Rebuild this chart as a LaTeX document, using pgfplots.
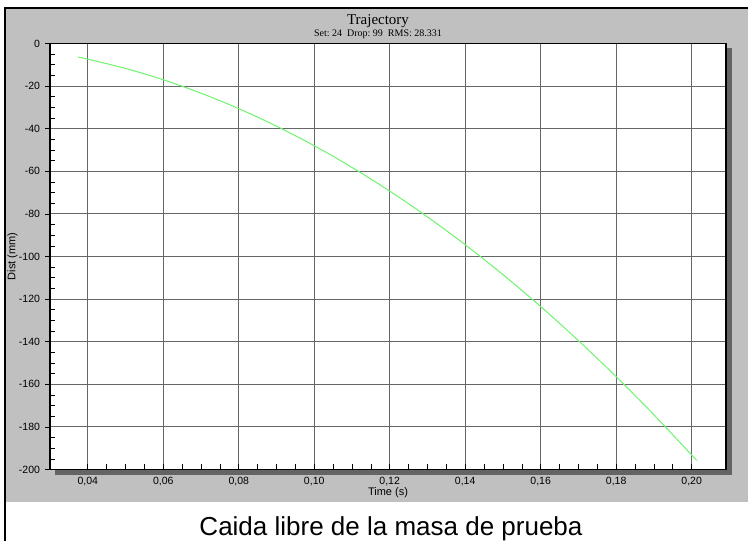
\documentclass[border=0pt]{standalone}
\usepackage{fontspec}
\setmainfont{Liberation Sans}
\newfontfamily\seriffont{Liberation Serif}
\usepackage{pgfplots}
\pgfplotsset{compat=1.18}
\definecolor{panelgray}{RGB}{192,192,192}
\definecolor{curvegreen}{RGB}{110,245,110}
\definecolor{shadowgray}{RGB}{100,100,100}
\begin{document}
\begin{tikzpicture}[x=1pt,y=1pt]
\path[use as bounding box] (0,0) rectangle (748,541);
\fill[white] (0,0) rectangle (748,541);
\fill[panelgray] (6,39) rectangle (748,532);
\fill[black] (4,0) rectangle (6,534);
\fill[black] (4,532) rectangle (748,534);
\fill[shadowgray] (727,66) rectangle (732,493);
\fill[shadowgray] (55,66) rectangle (732,71);
\begin{axis}[
  at={(50pt,71.5pt)}, anchor=south west, scale only axis,
  width=676pt, height=426pt,
  xmin=0.03, xmax=0.2091, ymin=-200, ymax=0,
  axis background/.style={fill=white},
  axis line style={black, line width=1.2pt},
  xtick={0.04,0.06,...,0.201},
  ytick={-200,-180,...,0},
  minor x tick num=3, minor y tick num=3,
  xtick pos=bottom, ytick pos=left,
  tick align=inside,
  major tick length=5pt, minor tick length=5pt,
  tick style={black, line width=0.6pt},
  major y tick style={xshift=-5pt},
  grid=major,
  major grid style={black!60, line width=0.9pt},
  /pgf/number format/assume math mode=true,
  xticklabel style={/pgf/number format/.cd, fixed, fixed zerofill, precision=2, use comma, /tikz/.cd, font=\fontsize{10.5}{12}\selectfont, yshift=-4.5pt},
  yticklabel style={font=\fontsize{10.5}{12}\selectfont, xshift=-6.5pt},
  xlabel={Time (s)},
  xlabel style={at={(axis description cs:0.5,-0.0605)}, anchor=base, font=\fontsize{11}{13}\selectfont},
  ylabel={Dist (mm)},
  ylabel style={at={(axis description cs:-0.0555,0.5)}, anchor=center, rotate=0, font=\fontsize{11}{13}\selectfont},
]
\addplot[curvegreen, line width=1pt, smooth] coordinates {
(0.0374,-6.37) (0.04,-7.34) (0.05,-11.70) (0.06,-17.02) (0.07,-23.32)
(0.08,-30.58) (0.09,-38.80) (0.10,-48.00) (0.11,-58.16) (0.12,-69.30)
(0.13,-81.40) (0.14,-94.46) (0.15,-108.50) (0.16,-123.50) (0.17,-139.48)
(0.18,-156.42) (0.19,-174.32) (0.20,-193.20) (0.2011,-195.34)
};
\end{axis}
\node[anchor=base, font=\seriffont\fontsize{15}{18}\selectfont] at (378,516.5) {Trajectory};
\node[anchor=base, font=\seriffont\fontsize{10}{12}\selectfont] at (378,504.3) {Set:~24~~Drop:~99~~RMS:~28.331};
\node[anchor=base, font=\fontsize{26}{30}\selectfont] at (391,5.5) {Caida libre de la masa de prueba};
\end{tikzpicture}
\end{document}
